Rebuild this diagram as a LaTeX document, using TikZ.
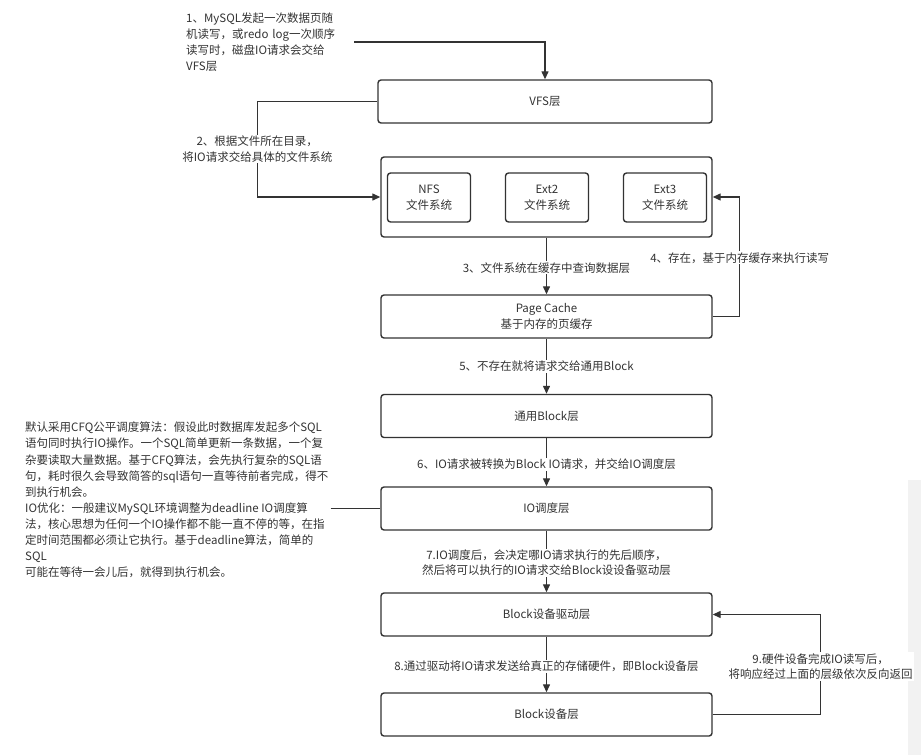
\documentclass[tikz,border=0pt]{standalone}
\usepackage{fontspec}
\setmainfont{Noto Sans CJK SC}
\usetikzlibrary{arrows.meta,positioning}
\definecolor{ink}{HTML}{333333}
\begin{document}
\begin{tikzpicture}[x=1pt,y=-1pt]

	\tikzstyle{layer} = [
		draw=ink,
		line width=1.4pt,
		rounded corners=3pt,
		minimum width=331pt,
		minimum height=43pt,
		inner sep=0pt,
		text=ink,
		align=center,
		font=\fontsize{11.5}{15.5}\selectfont
	]
	\tikzstyle{fsbox} = [layer, minimum width=83pt, minimum height=49pt]
	\tikzstyle{lbl} = [fill=white, text=ink, align=center, inner sep=1pt, font=\fontsize{11.5}{15.5}\selectfont]
	\tikzstyle{note} = [text=ink, align=left, inner sep=2pt, font=\fontsize{11.5}{16.1}\selectfont]
	\tikzstyle{arr} = [draw=ink, line width=1.3pt, -{Triangle[length=8pt,width=7pt]}]
	\tikzstyle{wire} = [draw=ink, line width=1.3pt]

	\useasboundingbox (0,0) rectangle (921,755);
	\fill[black!5] (908,480) rectangle (921,755);

	% layers, top to bottom
	\node (vfs) [style=layer, minimum width=334pt] at (545,101.5) {VFS层};
	\node (fs) [style=layer, minimum height=80pt] at (546.5,197) {};
	\node (nfs) [style=fsbox] at (429,197.5) {NFS\\文件系统};
	\node (ext2) [style=fsbox] at (547,197.5) {Ext2\\文件系统};
	\node (ext3) [style=fsbox] at (665,197.5) {Ext3\\文件系统};
	\node (pc) [style=layer] at (546.5,316.5) {Page Cache\\基于内存的页缓存};
	\node (blk) [style=layer] at (546.5,416) {通用Block层};
	\node (sched) [style=layer] at (546.5,508.5) {IO调度层};
	\node (drv) [style=layer] at (546.5,614.5) {Block设备驱动层};
	\node (dev) [style=layer] at (546.5,714.5) {Block设备层};

	% notes
	\node (start) [style=note, anchor=west, text width=166pt] at (184,42) {1、MySQL发起一次数据页随\\机读写，或redo log一次顺序\\读写时，磁盘IO请求会交给\\VFS层};
	\node (cfq) [style=note, anchor=west] at (23,500) {默认采用CFQ公平调度算法：假设此时数据库发起多个SQL\\语句同时执行IO操作。一个SQL简单更新一条数据，一个复\\杂要读取大量数据。基于CFQ算法，会先执行复杂的SQL语\\句，耗时很久会导致简答的sql语句一直等待前者完成，得不\\到执行机会。\\IO优化：一般建议MySQL环境调整为deadline IO调度算\\法，核心思想为任何一个IO操作都不能一直不停的等，在指\\定时间范围都必须让它执行。基于deadline算法，简单的\\SQL\\可能在等待一会儿后，就得到执行机会。};

	% connectors
	\draw [style=arr] (start.east) -| (vfs.north);
	\draw [style=arr] (vfs.west) -- ++(-120,0) |- node[style=lbl, pos=0.25] {2、根据文件所在目录，\\将IO请求交给具体的文件系统} (fs.west);
	\draw [style=arr] (fs.south) -- node[style=lbl, pos=0.53] {3、文件系统在缓存中查询数据层} (pc.north);
	\draw [style=arr] (pc.east) -- ++(27,0) |- node[style=lbl, pos=0.245] {4、存在，基于内存缓存来执行读写} (fs.east);
	\draw [style=arr] (pc.south) -- node[style=lbl] {5、不存在就将请求交给通用Block} (blk.north);
	\draw [style=arr] (blk.south) -- node[style=lbl, pos=0.54] {6、IO请求被转换为Block IO请求，并交给IO调度层} (sched.north);
	\draw [style=wire] (cfq.east |- sched.west) -- (sched.west);
	\draw [style=arr] (sched.south) -- node[style=lbl, pos=0.52] {7.IO调度后，会决定哪IO请求执行的先后顺序，\\然后将可以执行的IO请求交给Block设设备驱动层} (drv.north);
	\draw [style=arr] (drv.south) -- node[style=lbl, pos=0.54] {8.通过驱动将IO请求发送给真正的存储硬件，即Block设备层} (dev.north);
	\draw [style=arr] (dev.east) -- ++(108,0) |- node[style=lbl, pos=0.24] {9.硬件设备完成IO读写后，\\将响应经过上面的层级依次反向返回} (drv.east);

\end{tikzpicture}
\end{document}
